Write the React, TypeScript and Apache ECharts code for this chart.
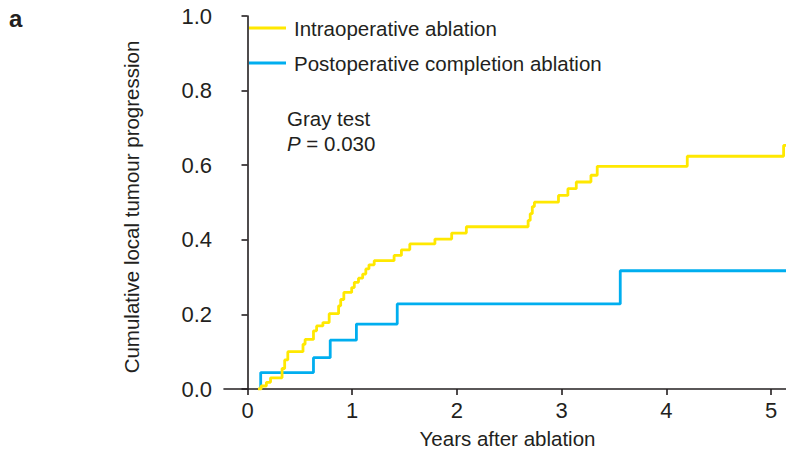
import React, { useEffect, useRef } from "react";
import * as echarts from "echarts";

// Intraoperative ablation: [years, cumulative incidence] at each step
const intraTimes = [0.10, 0.13, 0.18, 0.22, 0.33, 0.355, 0.385, 0.53, 0.55, 0.63, 0.66, 0.72, 0.78, 0.87, 0.89, 0.92, 0.995, 1.02, 1.06, 1.10, 1.13, 1.16, 1.21, 1.40, 1.47, 1.55, 1.79, 1.95, 2.09, 2.68, 2.70, 2.72, 2.74, 2.97, 3.06, 3.14, 3.28, 3.34, 4.20, 5.12, 5.143];
const intraValues = [0, 0.008, 0.018, 0.03, 0.055, 0.078, 0.1, 0.12, 0.133, 0.156, 0.169, 0.178, 0.202, 0.223, 0.24, 0.259, 0.272, 0.286, 0.297, 0.308, 0.322, 0.333, 0.344, 0.358, 0.373, 0.389, 0.402, 0.418, 0.435, 0.452, 0.47, 0.489, 0.501, 0.519, 0.537, 0.555, 0.573, 0.597, 0.624, 0.653, 0.653];

// Postoperative completion ablation
const postTimes = [0.126, 0.126, 0.63, 0.79, 1.04, 1.43, 3.56, 5.143];
const postValues = [0, 0.044, 0.084, 0.131, 0.174, 0.228, 0.317, 0.317];

const xTicks = [0, 1, 2, 3, 4, 5];
const seriesNames = ["Intraoperative ablation", "Postoperative completion ablation"];
const seriesColors = ["#FFE800", "#00AEEF"];

const FONT = "'Liberation Sans', Arial, Helvetica, sans-serif";
const INK = "#231f20";

export default function App() {
  const ref = useRef<HTMLDivElement>(null);
  useEffect(() => {
    if (!ref.current) return;
    const chart = echarts.init(ref.current, undefined, { renderer: "svg" });
    const mk = (ts: number[], vs: number[]) => ts.map((t, i) => [t, vs[i]]);
    chart.setOption({
      animation: false,
      backgroundColor: "#ffffff",
      textStyle: { fontFamily: FONT },
      grid: { left: 224, right: 0, top: 16, bottom: 63, containLabel: false },
      legend: {
        orient: "vertical",
        left: 244,
        top: 11,
        icon: "rect",
        itemWidth: 37,
        itemHeight: 3,
        itemGap: 11,
        selectedMode: false,
        data: seriesNames,
        textStyle: { fontFamily: FONT, fontSize: 20.5, color: INK, lineHeight: 24, padding: [0, 0, 0, 3] },
      },
      xAxis: {
        type: "value",
        min: -0.2245,
        max: 5.143,
        splitLine: { show: false },
        axisLine: { show: true, onZero: false, lineStyle: { color: INK, width: 1.6 } },
        axisTick: { show: true, length: 6, customValues: xTicks, lineStyle: { color: INK, width: 1.6 } },
        axisLabel: { customValues: xTicks, fontFamily: FONT, fontSize: 22, color: INK, margin: 10 },
      },
      yAxis: {
        type: "value",
        min: 0,
        max: 1,
        interval: 0.2,
        splitLine: { show: false },
        axisLine: { show: true, lineStyle: { color: INK, width: 1.6 } },
        axisTick: { show: true, length: 6, lineStyle: { color: INK, width: 1.6 } },
        axisLabel: { fontFamily: FONT, fontSize: 22, color: INK, margin: 12, formatter: (v: number) => v.toFixed(1) },
      },
      graphic: [
        { type: "text", left: 9, top: 6, style: { text: "a", font: `bold 24px ${FONT}`, fill: INK } },
        {
          type: "text",
          x: 131,
          y: 207,
          rotation: Math.PI / 2,
          style: { text: "Cumulative local tumour progression", font: `20.5px ${FONT}`, fill: INK, align: "center", verticalAlign: "middle" },
        },
        { type: "text", x: 507.5, y: 438, style: { text: "Years after ablation", font: `20.5px ${FONT}`, fill: INK, align: "center", verticalAlign: "middle" } },
        { type: "text", x: 287, y: 118, style: { text: "Gray test", font: `20.5px ${FONT}`, fill: INK, align: "left", verticalAlign: "middle" } },
        {
          type: "text",
          x: 287,
          y: 143,
          style: {
            text: "{i|P} = 0.030",
            font: `20.5px ${FONT}`,
            fill: INK,
            align: "left",
            verticalAlign: "middle",
            rich: { i: { fontStyle: "italic", fontSize: 20.5, fontFamily: FONT, fill: INK } },
          },
        },
      ],
      series: [
        {
          name: seriesNames[0],
          type: "line",
          step: "end",
          data: mk(intraTimes, intraValues),
          showSymbol: false,
          symbol: "none",
          lineStyle: { color: seriesColors[0], width: 2.8 },
          itemStyle: { color: seriesColors[0] },
          z: 3,
        },
        {
          name: seriesNames[1],
          type: "line",
          step: "end",
          data: mk(postTimes, postValues),
          showSymbol: false,
          symbol: "none",
          lineStyle: { color: seriesColors[1], width: 2.8 },
          itemStyle: { color: seriesColors[1] },
          z: 2,
        },
      ],
    });
    return () => chart.dispose();
  }, []);
  return <div ref={ref} style={{ position: "absolute", left: 0, top: 0, width: 786, height: 452 }} />;
}
